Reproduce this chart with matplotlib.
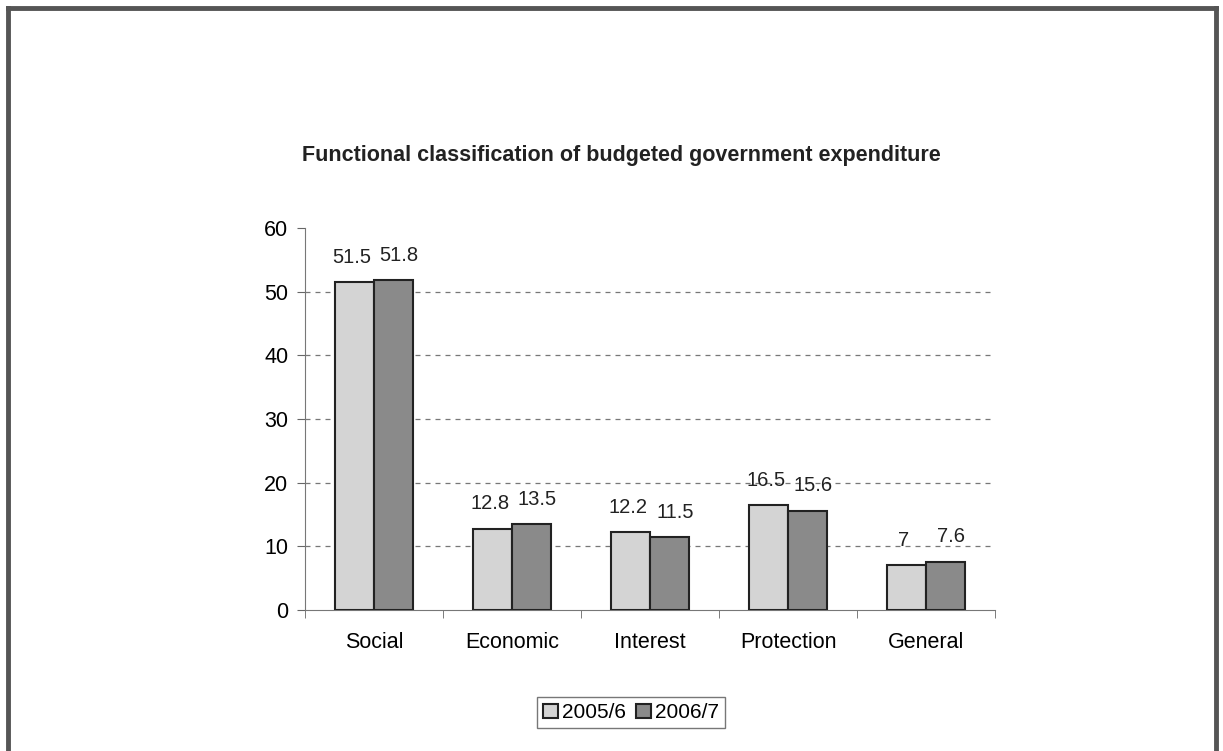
import numpy as np
import matplotlib.pyplot as plt
from matplotlib.lines import Line2D

# =========================
# DATA
# =========================
categories = ["Social", "Economic", "Interest", "Protection", "General"]
years = ["2005/6", "2006/7"]
values_2005 = [51.5, 12.8, 12.2, 16.5, 7]
values_2006 = [51.8, 13.5, 11.5, 15.6, 7.6]

plt.rcParams['font.family'] = ['Liberation Sans', 'DejaVu Sans']

fig = plt.figure(figsize=(12.23, 7.51), dpi=100)
ax = fig.add_axes([0.2494, 0.1877, 0.5642, 0.5087])

x = np.arange(len(categories))
w = 0.285

b1 = ax.bar(x - w / 2, values_2005, w, color="#d4d4d4", edgecolor="#222222",
            linewidth=1.5, label=years[0], zorder=3)
b2 = ax.bar(x + w / 2, values_2006, w, color="#8a8a8a", edgecolor="#222222",
            linewidth=1.5, label=years[1], zorder=3)

# value labels, nudged apart a little so neighbours don't touch
for bars, vals, dx in [(b1, values_2005, -2), (b2, values_2006, 4)]:
    for rect, v in zip(bars, vals):
        ax.annotate(f"{v:g}", (rect.get_x() + rect.get_width() / 2, v + 2.4),
                    xytext=(dx, 0), textcoords="offset points",
                    ha="center", va="bottom", fontsize=14.5, color="#222222")

ax.set_xlim(-0.5, len(categories) - 0.5)
ax.set_ylim(0, 60)
ax.set_yticks(range(0, 61, 10))
for yv in range(10, 60, 10):
    ax.axhline(yv, color="#777777", linestyle=(0, (4, 4)), linewidth=0.9, zorder=1)

# category labels centered, ticks at boundaries (Excel style)
ax.set_xticks(x)
ax.set_xticklabels(categories, fontsize=15.5)
ax.tick_params(axis="x", length=0, pad=16)
ax.set_xticks(np.arange(-0.5, len(categories)), minor=True)
ax.tick_params(axis="x", which="minor", length=6, direction="out", color="#666666")
ax.tick_params(axis="y", labelsize=15.5, length=6, color="#666666", pad=6)

for s in ["top", "right"]:
    ax.spines[s].set_visible(False)
ax.spines["left"].set_color("#777777")
ax.spines["bottom"].set_color("#777777")

fig.text(0.508, 0.793, "Functional classification of budgeted government expenditure",
         ha="center", va="center", fontsize=15.5, fontweight="bold", color="#222222")

leg = fig.legend(handles=[b1, b2], labels=years, loc="center",
                 bbox_to_anchor=(0.516, 0.051), ncol=2, fontsize=15,
                 frameon=True, fancybox=False, edgecolor="#555555",
                 handlelength=0.7, handleheight=0.7, handletextpad=0.2,
                 columnspacing=0.5, borderpad=0.3)
leg.get_frame().set_linewidth(1.0)

# outer frame (no bottom edge)
bc = "#555555"
fig.add_artist(Line2D([0.0065, 0.0065], [0, 0.9893], transform=fig.transFigure, color=bc, linewidth=3.5))
fig.add_artist(Line2D([0.0065, 0.9945], [0.9893, 0.9893], transform=fig.transFigure, color=bc, linewidth=3.5))
fig.add_artist(Line2D([0.9945, 0.9945], [0, 0.9893], transform=fig.transFigure, color=bc, linewidth=3.5))

fig.savefig("out.png", dpi=100)
